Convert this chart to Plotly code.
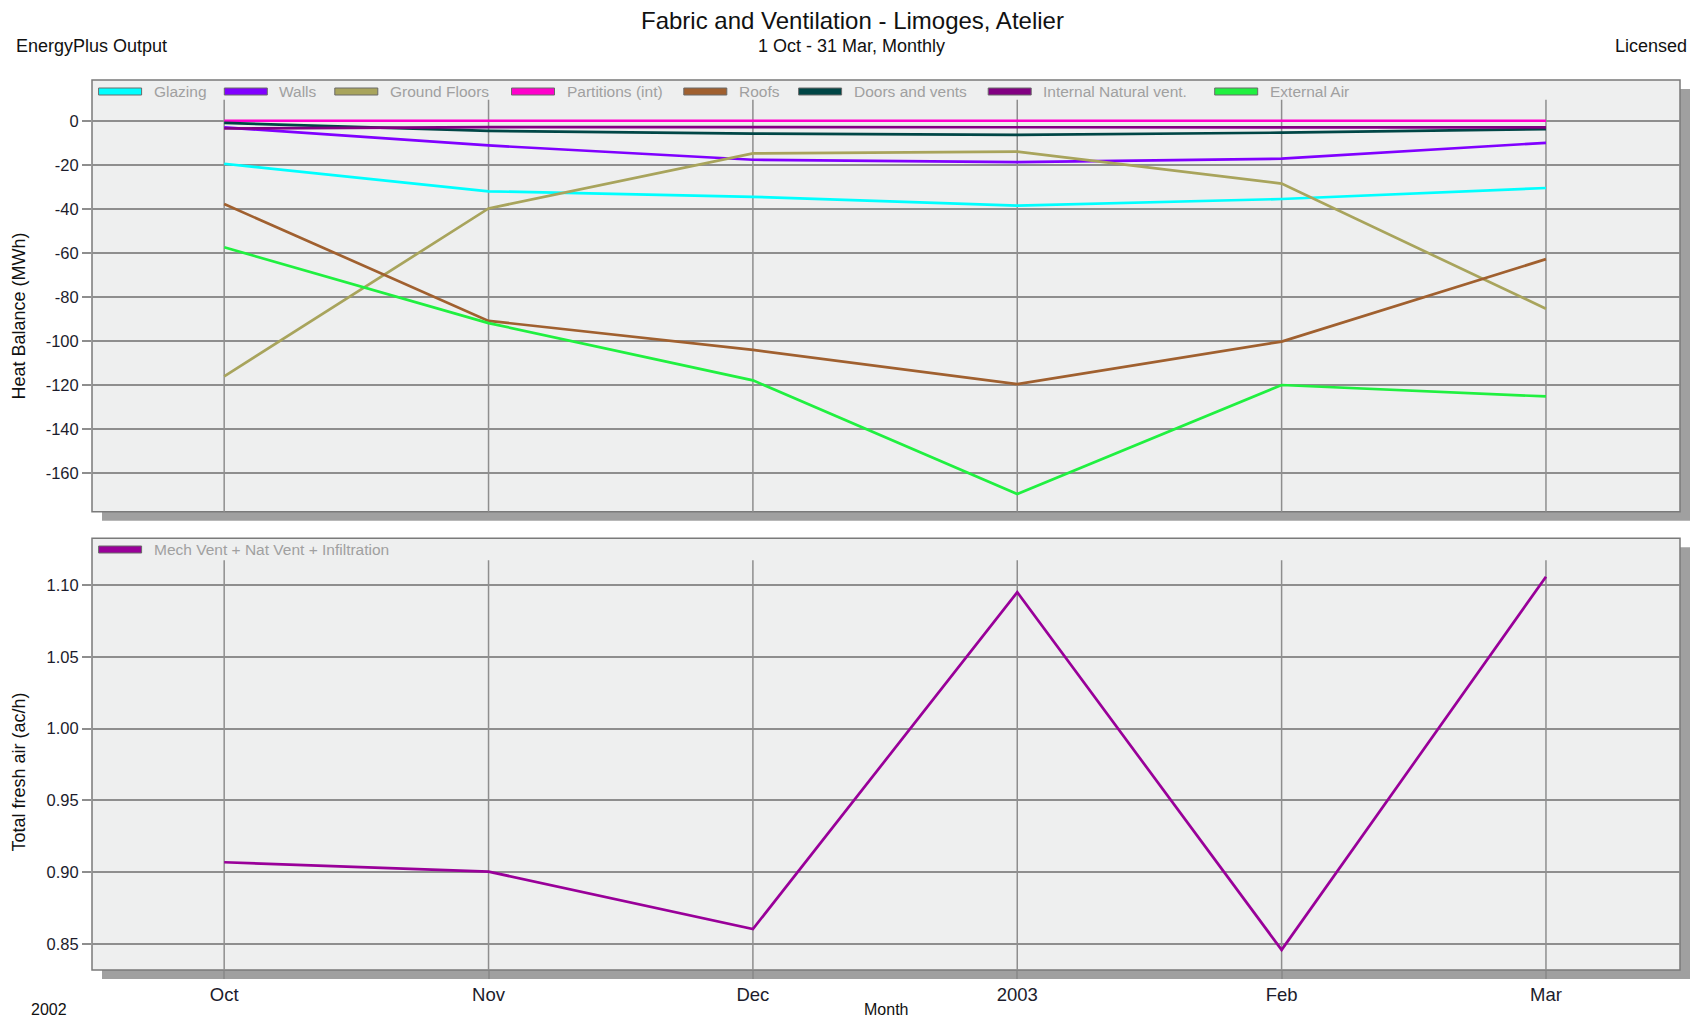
import plotly.graph_objects as go

# ---------------- data ----------------
tick_labels = ["Oct", "Nov", "Dec", "2003", "Feb", "Mar"]

heat_series = ["Glazing", "Walls", "Ground Floors", "Partitions (int)", "Roofs",
               "Doors and vents", "Internal Natural vent.", "External Air"]
glazing = [-19.5, -32.0, -34.5, -38.5, -35.5, -30.5]
walls = [-3.0, -11.2, -17.7, -18.8, -17.2, -10.0]
ground_floors = [-116.0, -39.8, -14.8, -14.0, -28.5, -85.3]
partitions = [0.0, 0.0, 0.0, 0.0, 0.0, 0.0]
roofs = [-37.8, -90.8, -104.0, -119.5, -100.2, -62.8]
doors_vents = [-1.0, -4.6, -5.8, -6.4, -5.4, -3.8]
internal_nat_vent = [-3.5, -2.9, -2.9, -2.9, -2.9, -3.0]
external_air = [-57.4, -91.8, -117.8, -169.4, -119.9, -125.1]

heat_ticks = [0, -20, -40, -60, -80, -100, -120, -140, -160]
heat_tick_labels = ["0", "-20", "-40", "-60", "-80", "-100", "-120", "-140", "-160"]

fresh_air_name = "Mech Vent + Nat Vent + Infiltration"
fresh_air = [0.907, 0.9005, 0.8605, 1.0949, 0.846, 1.1058]
fresh_ticks = [0.85, 0.90, 0.95, 1.00, 1.05, 1.10]

heat_colors = ["#00FFFF", "#8000FF", "#A8A45C", "#FF00CC", "#A0602F",
               "#004646", "#820082", "#20F040"]
fresh_color = "#990099"

# ---------------- layout helpers ----------------
# the page body has an 8px margin, so the figure is placed 8px in from the window
OFF = 8
W, H = 1699 - 2 * OFF, 1027 - 2 * OFF
def px(x):
    return (x - OFF) / W
def py(y):
    return 1 - (y - OFF) / H

L, R = 92, 1680
T1, B1 = 80, 511.7
T2, B2 = 538.3, 970

x = list(range(len(tick_labels)))
series_vals = [glazing, walls, ground_floors, partitions, roofs, doors_vents,
               internal_nat_vent, external_air]

fig = go.Figure()

for name, vals, col in zip(heat_series, series_vals, heat_colors):
    fig.add_trace(go.Scatter(x=x, y=vals, mode="lines", name=name,
                             line=dict(color=col, width=2.7),
                             showlegend=False, xaxis="x", yaxis="y"))

fig.add_trace(go.Scatter(x=x, y=fresh_air, mode="lines", name=fresh_air_name,
                         line=dict(color=fresh_color, width=2.7),
                         showlegend=False, xaxis="x2", yaxis="y2"))

grid_col = "#8E8E8E"
txt_col = "#1C1C2C"
font_fam = "Liberation Sans, Arial, sans-serif"
tick_font = dict(family=font_fam, size=16.5, color=txt_col)

shapes = []
for (t, b) in [(T1, B1), (T2, B2)]:
    shapes.append(dict(type="rect", xref="paper", yref="paper",
                       x0=px(L + 10), x1=px(R + 10), y0=py(b + 9), y1=py(t + 9),
                       fillcolor="#A0A0A0", line=dict(width=0), layer="below"))
    shapes.append(dict(type="rect", xref="paper", yref="paper",
                       x0=px(L), x1=px(R), y0=py(b), y1=py(t),
                       fillcolor="#EEEFEF", line=dict(color="#7A7A7A", width=1.5), layer="below"))

# vertical gridlines (stop below the legend row)
for xi in x:
    shapes.append(dict(type="line", xref="x", yref="y domain", x0=xi, x1=xi, y0=0, y1=0.954,
                       line=dict(color=grid_col, width=1.5), layer="below"))
    shapes.append(dict(type="line", xref="x2", yref="y2 domain", x0=xi, x1=xi, y0=0, y1=0.949,
                       line=dict(color=grid_col, width=1.5), layer="below"))

annotations = []

# ---- legends (drawn as swatches + text, mimicking the original) ----
legend_starts = [98.6, 224.3, 334.8, 511.5, 683.8, 798.6, 988.2, 1214.7]
def legend_entry(x0, yc, name, col):
    shapes.append(dict(type="rect", xref="paper", yref="paper",
                       x0=px(x0), x1=px(x0 + 43), y0=py(yc + 3.5), y1=py(yc - 3.5),
                       fillcolor=col, line=dict(color="#6A6A6A", width=1), layer="above"))
    annotations.append(dict(text=name, x=px(x0 + 53), y=py(yc), xanchor="left", yanchor="middle",
                            font=dict(family=font_fam, size=15.5, color="#A0A0A0")))

for xs, name, col in zip(legend_starts, heat_series, heat_colors):
    legend_entry(xs, 91.5, name, col)
legend_entry(98.6, 549.5, fresh_air_name, fresh_color)

fig.update_layout(
    width=W, height=H,
    margin=dict(l=0, r=0, t=0, b=0),
    paper_bgcolor="white",
    plot_bgcolor="rgba(0,0,0,0)",
    font=dict(family=font_fam, size=14, color=txt_col),
    showlegend=False,
    xaxis=dict(domain=[px(L), px(R)], range=[-0.5, 5.507], showgrid=False, zeroline=False,
               showticklabels=False, ticks="", anchor="y", tickvals=x, fixedrange=True),
    yaxis=dict(domain=[py(B1), py(T1)], range=[-177.4, 18.5],
               tickvals=heat_ticks, ticktext=heat_tick_labels,
               showgrid=True, gridcolor=grid_col, gridwidth=1.5, zeroline=False,
               ticks="outside", ticklen=9, tickcolor=grid_col, tickwidth=1.5, tickfont=tick_font,
               anchor="x"),
    xaxis2=dict(domain=[px(L), px(R)], range=[-0.5, 5.507], showgrid=False, zeroline=False,
                tickvals=x, ticktext=tick_labels, ticks="outside", ticklen=8, tickcolor=grid_col,
                tickwidth=1.5, tickfont=dict(family=font_fam, size=18.5, color=txt_col), anchor="y2"),
    yaxis2=dict(domain=[py(B2), py(T2)], range=[0.832, 1.1325],
                tickvals=fresh_ticks, tickformat=".2f",
                showgrid=True, gridcolor=grid_col, gridwidth=1.5, zeroline=False,
                ticks="outside", ticklen=9, tickcolor=grid_col, tickwidth=1.5, tickfont=tick_font,
                anchor="x2"),
    shapes=shapes,
)

ann_font = dict(family=font_fam, color="#111111")
annotations += [
    dict(text="Fabric and Ventilation - Limoges, Atelier", x=px(852), y=py(21), xanchor="center",
         yanchor="middle", font=dict(size=24, **ann_font)),
    dict(text="EnergyPlus Output", x=px(14), y=py(46), xanchor="left", yanchor="middle",
         font=dict(size=18, **ann_font)),
    dict(text="1 Oct - 31 Mar, Monthly", x=px(851), y=py(46), xanchor="center", yanchor="middle",
         font=dict(size=18, **ann_font)),
    dict(text="Licensed", x=px(1689), y=py(46), xanchor="right", yanchor="middle",
         font=dict(size=18, **ann_font)),
    dict(text="Heat Balance (MWh)", x=px(18.5), y=py(316), xanchor="center", yanchor="middle",
         textangle=-90, font=dict(size=18, **ann_font)),
    dict(text="Total fresh air (ac/h)", x=px(18.5), y=py(772), xanchor="center", yanchor="middle",
         textangle=-90, font=dict(size=18, **ann_font)),
    dict(text="2002", x=px(49), y=py(1009), xanchor="center", yanchor="middle",
         font=dict(size=16, **ann_font)),
    dict(text="Month", x=px(886), y=py(1009), xanchor="center", yanchor="middle",
         font=dict(size=16, **ann_font)),
]
for a in annotations:
    a.update(xref="paper", yref="paper", showarrow=False)
fig.update_layout(annotations=annotations)

fig.write_html("out.html")
